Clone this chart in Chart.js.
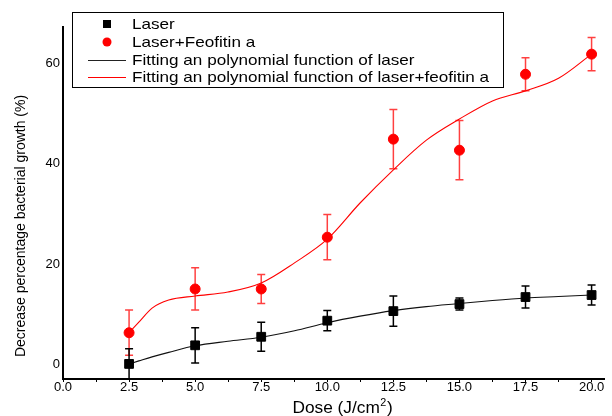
<!DOCTYPE html>
<html>
<head>
<meta charset="utf-8">
<script src="https://cdn.jsdelivr.net/npm/chart.js@4/dist/chart.umd.min.js"></script>
<style>
html,body{margin:0;padding:0;background:#fff;}
#c{display:block;}
</style>
</head>
<body>
<canvas id="c" width="612" height="416"></canvas>
<script>
// ---- data ----
const doses = [2.5, 5.0, 7.5, 10.0, 12.5, 15.0, 17.5, 20.0];
const laser = [0.2, 3.9, 5.6, 8.8, 10.7, 12.1, 13.5, 13.9];
const laserErr = [3.0, 3.5, 2.9, 2.0, 3.0, 1.2, 2.2, 2.0];
const laserFeo = [6.4, 15.1, 15.1, 25.4, 44.9, 42.7, 57.8, 61.8];
const laserFeoErr = [4.5, 4.2, 2.9, 4.5, 5.9, 5.9, 3.3, 3.3];
// fitted curves
const fitDose = [2.5, 2.87, 3.37, 4.0, 5.0, 6.24, 7.5, 8.76, 10.0, 11.24, 12.5, 13.75, 15.0, 16.25, 17.5, 18.75, 20.0];
const laserFit = [0.2, 0.8, 1.6, 2.5, 3.8, 4.7, 5.5, 6.8, 8.4, 9.7, 10.8, 11.6, 12.2, 12.8, 13.3, 13.6, 13.9];
const laserFeoFit = [6.4, 8.5, 11.3, 12.9, 13.7, 14.5, 16.3, 20.3, 25.0, 32.2, 38.8, 44.7, 48.9, 52.5, 54.5, 57.0, 61.8];
const xTickLabels = ['0.0','2.5','5.0','7.5','10.0','12.5','15.0','17.5','20.0'];
const yTickLabels = ['0','20','40','60'];
const labels = ['Laser', 'Laser+Feofitin a', 'Fitting an polynomial function of laser', 'Fitting an polynomial function of laser+feofitin a'];
const xTitle = ['Dose (J/cm', '2', ')'];
const yTitle = 'Decrease percentage bacterial growth (%)';

const FONT = "'Liberation Sans', Arial, sans-serif";
const pts = (xs, ys) => xs.map((x, i) => ({x: x, y: ys[i]}));

const errorBars = {
  id: 'errorBars',
  beforeDatasetsDraw(chart) {
    const ctx = chart.ctx, xs = chart.scales.x, ys = chart.scales.y;
    const a = chart.chartArea;
    ctx.save();
    ctx.beginPath();
    ctx.rect(a.left, a.top, a.right - a.left, a.bottom - a.top);
    ctx.clip();
    const sets = [
      {v: laserFeo, e: laserFeoErr, c: 'rgba(255,0,0,0.75)'},
      {v: laser, e: laserErr, c: '#000'}
    ];
    sets.forEach(s => {
      ctx.strokeStyle = s.c;
      ctx.lineWidth = 1.5;
      doses.forEach((d, i) => {
        const px = xs.getPixelForValue(d);
        const top = ys.getPixelForValue(s.v[i] + s.e[i]);
        const bot = ys.getPixelForValue(s.v[i] - s.e[i]);
        ctx.beginPath();
        ctx.moveTo(px, top); ctx.lineTo(px, bot);
        ctx.moveTo(px - 4, top); ctx.lineTo(px + 4, top);
        ctx.moveTo(px - 4, bot); ctx.lineTo(px + 4, bot);
        ctx.stroke();
      });
    });
    ctx.restore();
  }
};

const titles = {
  id: 'titles',
  afterDraw(chart) {
    const ctx = chart.ctx;
    ctx.save();
    ctx.fillStyle = '#000';
    // y title
    ctx.save();
    ctx.translate(21, 226);
    ctx.rotate(-Math.PI / 2);
    ctx.font = '14px ' + FONT;
    ctx.textAlign = 'center';
    ctx.textBaseline = 'middle';
    ctx.fillText(yTitle, 0, 0);
    ctx.restore();
    // x title with superscript
    ctx.save();
    ctx.translate(342, 409);
    ctx.scale(1.08, 1);
    ctx.textBaseline = 'middle';
    ctx.font = '16px ' + FONT;
    const w1 = ctx.measureText(xTitle[0]).width;
    ctx.font = '10px ' + FONT;
    const w2 = ctx.measureText(xTitle[1]).width;
    ctx.font = '16px ' + FONT;
    const w3 = ctx.measureText(xTitle[2]).width;
    let x = -(w1 + w2 + w3) / 2;
    ctx.textAlign = 'left';
    ctx.fillText(xTitle[0], x, 0); x += w1;
    ctx.font = '10px ' + FONT;
    ctx.fillText(xTitle[1], x + 0.5, -6); x += w2 + 1;
    ctx.font = '16px ' + FONT;
    ctx.fillText(xTitle[2], x, 0);
    ctx.restore();
    ctx.restore();
  }
};

const boxLegend = {
  id: 'boxLegend',
  afterDraw(chart) {
    const ctx = chart.ctx;
    const L = 72, T = 12, R = 503, B = 87;
    ctx.save();
    ctx.fillStyle = '#fff';
    ctx.fillRect(L, T, R - L, B - T);
    ctx.strokeStyle = '#000';
    ctx.lineWidth = 1;
    ctx.strokeRect(L + 0.5, T + 0.5, R - L, B - T);
    const rows = [24, 42, 60, 77];
    ctx.fillStyle = '#000';
    ctx.fillRect(103, rows[0] - 4, 8, 8);
    ctx.fillStyle = '#ff0000';
    ctx.beginPath(); ctx.arc(107, rows[1], 4.5, 0, Math.PI * 2); ctx.fill();
    ctx.lineWidth = 1;
    ctx.strokeStyle = '#222';
    ctx.beginPath(); ctx.moveTo(88, rows[2] + 0.5); ctx.lineTo(126, rows[2] + 0.5); ctx.stroke();
    ctx.strokeStyle = '#ff0000';
    ctx.beginPath(); ctx.moveTo(88, rows[3] + 0.5); ctx.lineTo(126, rows[3] + 0.5); ctx.stroke();
    ctx.fillStyle = '#000';
    ctx.font = '14.5px ' + FONT;
    ctx.textBaseline = 'middle';
    chart.data.datasets.forEach((d, i) => {
      ctx.save();
      ctx.translate(132, rows[i] + 1);
      ctx.scale(1.18, 1);
      ctx.fillText(d.label, 0, 0);
      ctx.restore();
    });
    ctx.restore();
  }
};

new Chart(document.getElementById('c'), {
  type: 'scatter',
  data: {
    datasets: [
      {label: labels[0], data: pts(doses, laser), backgroundColor: '#000', borderColor: '#000',
       pointStyle: 'rect', pointRadius: 6.2, pointHoverRadius: 6.2, order: 1},
      {label: labels[1], data: pts(doses, laserFeo), backgroundColor: '#ff0000', borderColor: '#ff0000',
       pointStyle: 'circle', pointRadius: 5, pointHoverRadius: 5, order: 0},
      {label: labels[2], data: pts(fitDose, laserFit), showLine: true, borderColor: '#111', borderWidth: 1.1,
       pointRadius: 0, cubicInterpolationMode: 'monotone', order: 3},
      {label: labels[3], data: pts(fitDose, laserFeoFit), showLine: true, borderColor: '#ff0000', borderWidth: 1.1,
       pointRadius: 0, cubicInterpolationMode: 'monotone', order: 2}
    ]
  },
  options: {
    responsive: false,
    animation: false,
    events: [],
    layout: {padding: {top: 27, right: 2, left: 0, bottom: 0}},
    plugins: {legend: {display: false}, tooltip: {enabled: false}},
    scales: {
      x: {
        type: 'linear', min: 0, max: 20.5,
        afterBuildTicks: s => { s.ticks = []; for (let v = 0; v <= 20.001; v += 1.25) s.ticks.push({value: v}); },
        afterFit: s => { s.height = 37; },
        ticks: {
          color: '#000', font: {family: FONT, size: 13}, padding: -2, maxRotation: 0, autoSkip: false,
          callback: v => { const k = Math.round(v / 2.5 * 1000) / 1000; return Number.isInteger(k) ? xTickLabels[k] : ''; }
        },
        grid: {drawOnChartArea: false, tickLength: 3, color: '#000', lineWidth: 1},
        border: {display: true, color: '#000', width: 2},
        title: {display: false}
      },
      y: {
        type: 'linear', min: -2.8, max: 67.2,
        afterBuildTicks: s => { s.ticks = [0, 20, 40, 60].map(v => ({value: v})); },
        afterFit: s => { s.width = 63; },
        ticks: {color: '#000', font: {family: FONT, size: 13}, padding: 3,
          callback: v => yTickLabels[[0,20,40,60].indexOf(v)]},
        grid: {drawOnChartArea: false, drawTicks: false, color: '#000'},
        border: {display: true, color: '#000', width: 2},
        title: {display: false}
      }
    }
  },
  plugins: [errorBars, boxLegend, titles]
});
</script>
</body>
</html>
